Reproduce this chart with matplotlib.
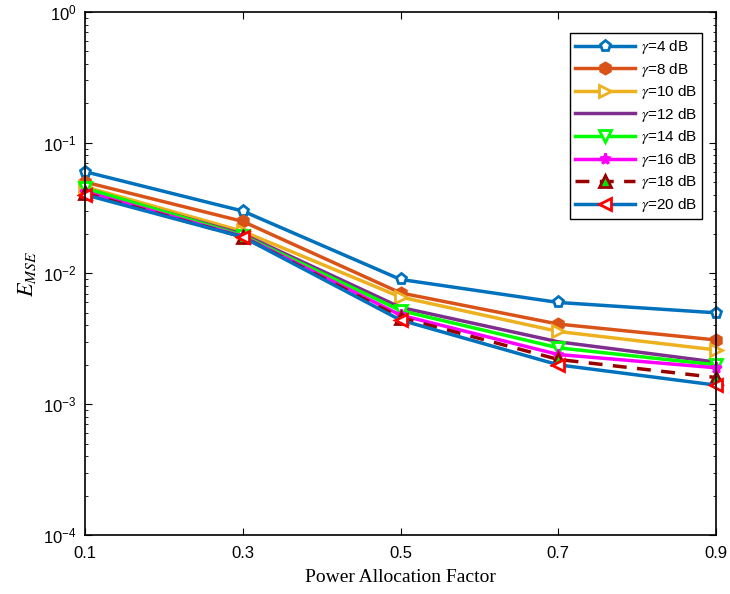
import matplotlib
matplotlib.use("Agg")
import matplotlib.pyplot as plt
from matplotlib.ticker import LogLocator, NullFormatter

x = [0.1, 0.3, 0.5, 0.7, 0.9]
snr_labels = ["4", "8", "10", "12", "14", "16", "18", "20"]
g4  = [0.060, 0.030, 0.0090, 0.0060, 0.0050]
g8  = [0.050, 0.025, 0.0071, 0.0041, 0.0031]
g10 = [0.046, 0.021, 0.0066, 0.0036, 0.0026]
g12 = [0.044, 0.020, 0.0055, 0.0030, 0.0021]
g14 = [0.045, 0.0195, 0.0052, 0.0027, 0.0020]
g16 = [0.042, 0.0192, 0.0048, 0.0024, 0.0019]
g18 = [0.041, 0.0190, 0.0046, 0.0022, 0.0016]
g20 = [0.040, 0.0190, 0.0044, 0.0020, 0.0014]
series = [g4, g8, g10, g12, g14, g16, g18, g20]

plt.rcParams['font.family'] = ['Liberation Sans', 'DejaVu Sans']
plt.rcParams['mathtext.fontset'] = 'stix'
plt.rcParams['axes.unicode_minus'] = False
fig = plt.figure(figsize=(7.3, 5.94), dpi=100)
ax = fig.add_axes([0.1164, 0.0993, 0.8646, 0.8807])

styles = [
    dict(color=(0, 0.447, 0.741), marker='p', mfc='white', mec=(0, 0.447, 0.741), ls='-'),
    dict(color=(0.85, 0.325, 0.098), marker='h', mfc=(0.85, 0.325, 0.098), mec=(0.85, 0.325, 0.098), ls='-'),
    dict(color=(0.929, 0.694, 0.125), marker='>', mfc='white', mec=(0.929, 0.694, 0.125), ls='-'),
    dict(color=(0.494, 0.184, 0.556), marker=None, ls='-'),
    dict(color=(0, 1, 0), marker='v', mfc='white', mec=(0, 1, 0), ls='-'),
    dict(color=(1, 0, 1), marker='*', mfc=(1, 0, 1), mec=(1, 0, 1), ls='-'),
    dict(color=(0.6, 0, 0), marker='^', mfc=(0, 0.9, 0), mec=(0.6, 0, 0), ls=(0, (4, 3))),
    dict(color=(0, 0.447, 0.741), marker='<', mfc='white', mec=(1, 0, 0), ls='-'),
]

for y, lab, st in zip(series, snr_labels, styles):
    ax.semilogy(x, y, lw=2.5, ms=8, mew=2, clip_on=False,
                label=r'$\gamma$=' + lab + ' dB', **st)

ax.set_xlim(0.1, 0.9)
ax.set_ylim(1e-4, 1)
ax.set_xticks(x)
ax.set_xticklabels(["0.1", "0.3", "0.5", "0.7", "0.9"])
ax.yaxis.set_minor_locator(LogLocator(base=10, subs=range(2, 10), numticks=20))
ax.yaxis.set_minor_formatter(NullFormatter())
ax.tick_params(which='both', direction='in', top=True, right=True, labelsize=12)
ax.tick_params(axis='x', pad=8)
ax.tick_params(axis='y', pad=6)
ax.tick_params(which='minor', length=2)
ax.tick_params(which='major', length=5)
for s in ax.spines.values():
    s.set_linewidth(1.2)

ax.set_xlabel('Power Allocation Factor', fontfamily='Liberation Serif', fontsize=14, labelpad=6)
ax.set_ylabel(r'$E_{MSE}$', fontsize=16, labelpad=4)

leg = ax.legend(loc='upper right', bbox_to_anchor=(0.99, 0.975), fontsize=11,
                fancybox=False, edgecolor='black', framealpha=1, handlelength=3.9,
                borderpad=0.35, labelspacing=0.3, handletextpad=0.4)
leg.get_frame().set_linewidth(1.0)

fig.savefig('out.png', dpi=100)
